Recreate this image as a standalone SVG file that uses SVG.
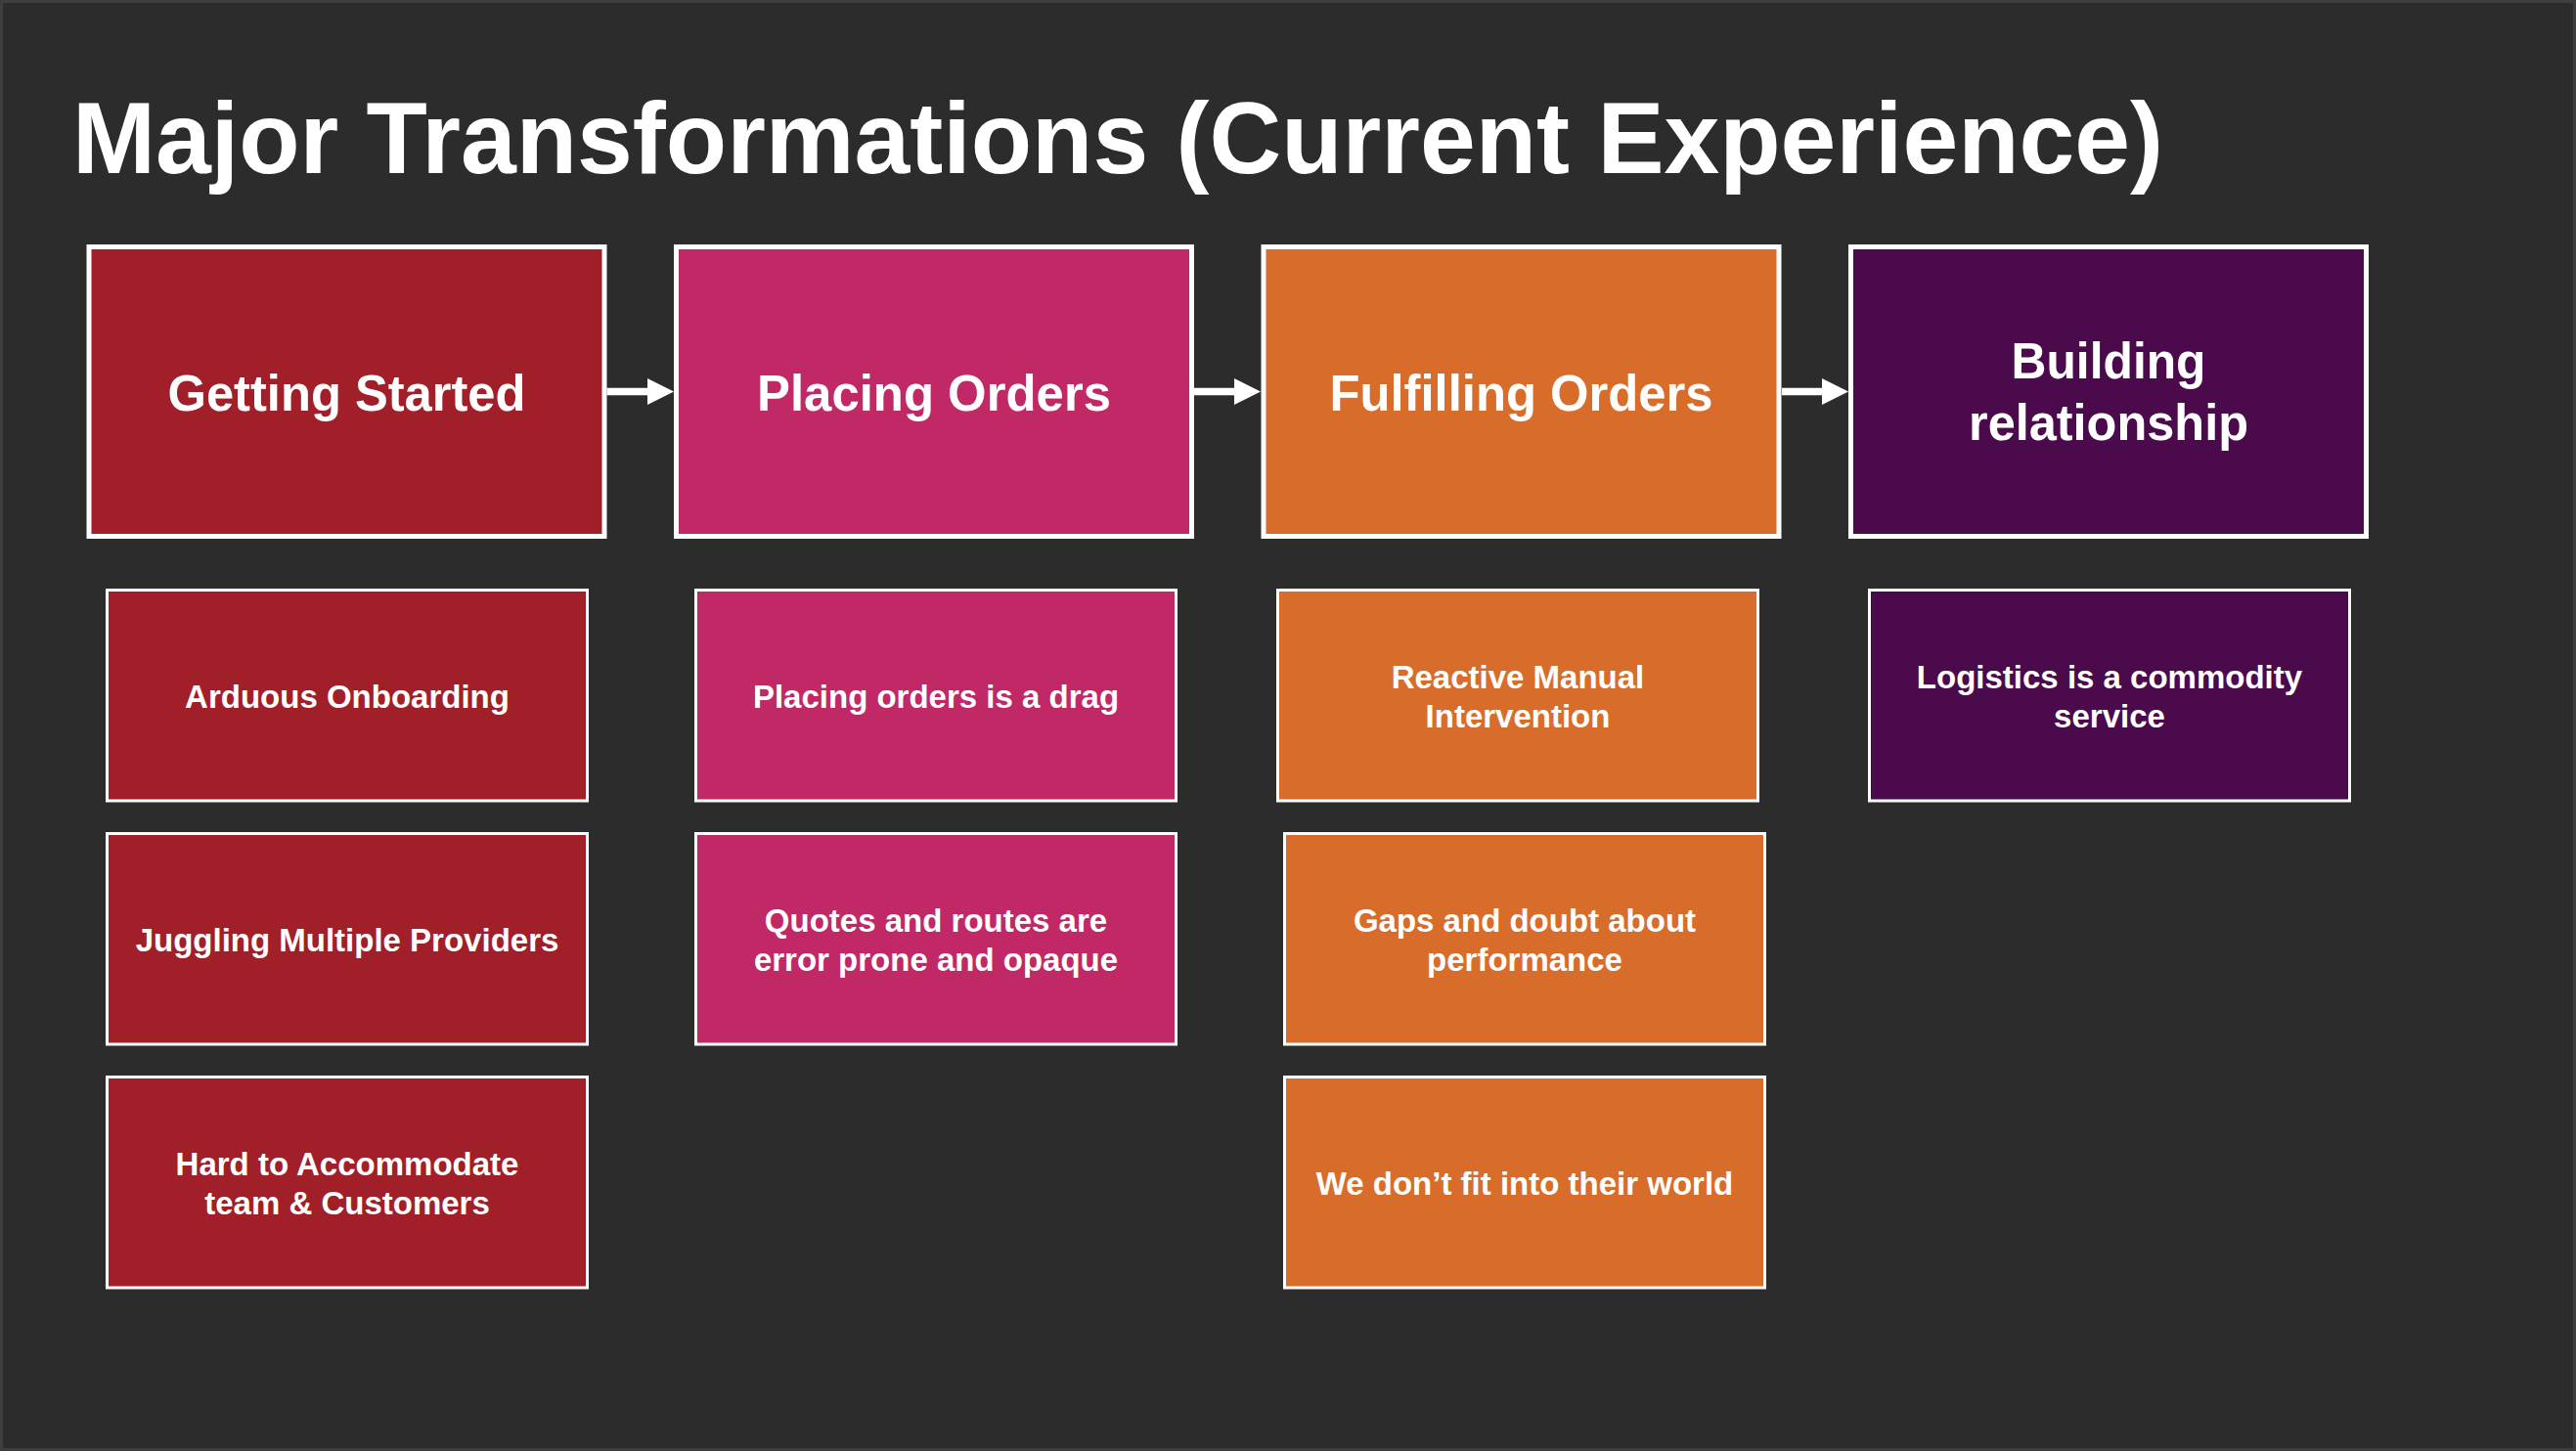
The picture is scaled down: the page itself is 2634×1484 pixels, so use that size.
<svg xmlns="http://www.w3.org/2000/svg" width="2634" height="1484" viewBox="0 0 2634 1484">
<defs>
<style>
.bg{fill:#2c2c2c}
.frame{fill:none;stroke:#3e3e3e;stroke-width:3}
.big{stroke:#ffffff;stroke-width:5}
.small{stroke:#ffffff;stroke-width:3}
.red{fill:#a11f28}
.pink{fill:#c02866}
.orange{fill:#d86d2b}
.purple{fill:#4a0a4c}
text{font-family:"Liberation Sans",Arial,Helvetica,sans-serif;font-weight:bold;fill:#ffffff;text-anchor:middle}
.title{font-size:104px;text-anchor:start}
.h{font-size:52px}
.s{font-size:33px}
.conn{stroke:#ffffff;stroke-width:7.5;fill:none}
.head{fill:#ffffff}
</style>
</defs>
<rect class="bg" x="0" y="0" width="2634" height="1484"/>
<rect class="frame" x="1.5" y="1.5" width="2631" height="1481"/>
<text class="title" x="74" y="176.5" textLength="2138" lengthAdjust="spacingAndGlyphs">Major Transformations (Current Experience)</text>

<g id="connectors">
<line class="conn" x1="620.5" y1="400.5" x2="665" y2="400.5"/>
<path class="head" d="M662,387 L689,400.5 L662,414 Z"/>
<line class="conn" x1="1221" y1="400.5" x2="1265" y2="400.5"/>
<path class="head" d="M1262,387 L1289,400.5 L1262,414 Z"/>
<line class="conn" x1="1822" y1="400.5" x2="1866" y2="400.5"/>
<path class="head" d="M1863,387 L1890,400.5 L1863,414 Z"/>
</g>

<g id="getting-started">
<rect class="big red" x="91" y="252.5" width="527" height="296"/>
<text class="h" x="354.5" y="420" textLength="366" lengthAdjust="spacingAndGlyphs">Getting Started</text>
</g>
<g id="placing-orders">
<rect class="big pink" x="691.5" y="252.5" width="527" height="296"/>
<text class="h" x="955" y="420" textLength="362" lengthAdjust="spacingAndGlyphs">Placing Orders</text>
</g>
<g id="fulfilling-orders">
<rect class="big orange" x="1292" y="252.5" width="527" height="296"/>
<text class="h" x="1555.5" y="420" textLength="392" lengthAdjust="spacingAndGlyphs">Fulfilling Orders</text>
</g>
<g id="building-relationship">
<rect class="big purple" x="1892.5" y="252.5" width="527" height="296"/>
<text class="h" x="2156" y="387" textLength="199" lengthAdjust="spacingAndGlyphs">Building</text>
<text class="h" x="2156" y="450" textLength="286" lengthAdjust="spacingAndGlyphs">relationship</text>
</g>

<g id="arduous-onboarding">
<rect class="small red" x="109.5" y="603.5" width="491" height="215.5"/>
<text class="s" x="355" y="723.5">Arduous Onboarding</text>
</g>
<g id="juggling-multiple-providers">
<rect class="small red" x="109.5" y="852.5" width="491" height="215.5"/>
<text class="s" x="355" y="972.5">Juggling Multiple Providers</text>
</g>
<g id="hard-to-accommodate">
<rect class="small red" x="109.5" y="1101.5" width="491" height="215.5"/>
<text class="s" x="355" y="1201.5">Hard to Accommodate</text>
<text class="s" x="355" y="1241.5">team &amp; Customers</text>
</g>

<g id="placing-orders-drag">
<rect class="small pink" x="711.5" y="603.5" width="491" height="215.5"/>
<text class="s" x="957" y="723.5">Placing orders is a drag</text>
</g>
<g id="quotes-and-routes">
<rect class="small pink" x="711.5" y="852.5" width="491" height="215.5"/>
<text class="s" x="957" y="952.5">Quotes and routes are</text>
<text class="s" x="957" y="992.5">error prone and opaque</text>
</g>

<g id="reactive-manual-intervention">
<rect class="small orange" x="1306.5" y="603.5" width="491" height="215.5"/>
<text class="s" x="1552" y="703.5">Reactive Manual</text>
<text class="s" x="1552" y="743.5">Intervention</text>
</g>
<g id="gaps-and-doubt">
<rect class="small orange" x="1313.5" y="852.5" width="491" height="215.5"/>
<text class="s" x="1559" y="952.5">Gaps and doubt about</text>
<text class="s" x="1559" y="992.5">performance</text>
</g>
<g id="dont-fit">
<rect class="small orange" x="1313.5" y="1101.5" width="491" height="215.5"/>
<text class="s" x="1559" y="1221.5">We don’t fit into their world</text>
</g>

<g id="logistics-commodity">
<rect class="small purple" x="1911.5" y="603.5" width="491" height="215.5"/>
<text class="s" x="2157" y="703.5">Logistics is a commodity</text>
<text class="s" x="2157" y="743.5">service</text>
</g>
</svg>
